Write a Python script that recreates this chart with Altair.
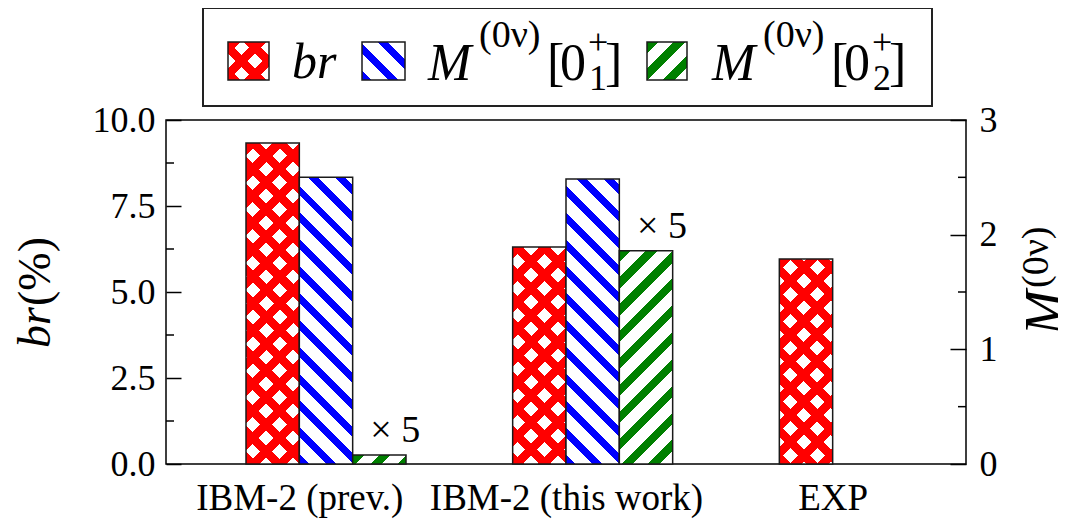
import json
import math
import altair as alt
import pandas as pd

# ---------------- data ----------------
groups = ["IBM-2 (prev.)", "IBM-2 (this work)", "EXP"]
br_percent = [9.33, 6.31, 5.96]          # left axis, %
m_0plus1 = [2.50, 2.485]                 # right axis
m_0plus2 = [0.0156, 0.372]               # right axis, drawn x5
M02_SCALE = 5
br_major = [0, 2.5, 5.0, 7.5, 10.0]
br_minor = [1.25, 3.75, 6.25, 8.75]
m_major = [0, 1, 2, 3]
m_minor = [0.5, 1.5, 2.5]
X5_LABEL = f"\u00d7 {M02_SCALE}"

# ---------------- style / layout ----------------
FONT = "Liberation Serif, Times New Roman, serif"
W, H = 800, 344
BR_MAX, M_MAX = 10.0, 3.0
BAR = 0.2
PX = W / 3.0
RED, BLUE, GREEN = "#ff0000", "#0000ff", "#008000"
WHITE = "#ffffff"
CLEAR = "rgba(255,255,255,0)"
EDGE = "#1a1a1a"
PERIOD = 19.0

rows = []
for i, v in enumerate(br_percent):
    rows.append(dict(id=f"br{i}", s="br", g=i, v=v, slot=-0.5))
for i, v in enumerate(m_0plus1):
    rows.append(dict(id=f"m1{i}", s="m1", g=i, v=v, slot=0.5))
for i, v in enumerate(m_0plus2):
    rows.append(dict(id=f"m2{i}", s="m2", g=i, v=v * M02_SCALE, slot=1.5))
df = pd.DataFrame(rows)
df["xc"] = df["g"] + df["slot"] * BAR
df["x0"] = df["xc"] - BAR / 2
df["x1"] = df["xc"] + BAR / 2


def stripes(w, h, direction, color, gap, frac):
    """Linear gradient with hard stops giving 45 degree stripes in a w x h box."""
    L = w + h
    P = PERIOD * math.sqrt(2)
    stops = []
    pos = 0.0
    while pos < L - 1e-6:
        a = round(pos / L, 5)
        b = round(min(pos + frac * P, L) / L, 5)
        c = round(min(pos + P, L) / L, 5)
        stops += [alt.GradientStop(offset=a, color=color),
                  alt.GradientStop(offset=b, color=color),
                  alt.GradientStop(offset=b, color=gap),
                  alt.GradientStop(offset=c, color=gap)]
        pos += P
    mu = (w + h) / (w * w + h * h)
    if direction == "back":   # "\\" stripes
        x1, y1, x2, y2 = 0, 1, mu * w, 1 - mu * h
    else:                     # "//" stripes
        x1, y1, x2, y2 = 0, 0, mu * w, mu * h
    return alt.LinearGradient(gradient="linear", stops=stops,
                              x1=x1, y1=y1, x2=x2, y2=y2)


def fills_for(series, w, h):
    """List of (fill, with_stroke) layers for one series pattern."""
    if series == "br":
        return [(stripes(w, h, "back", RED, WHITE, 0.45), False),
                (stripes(w, h, "fwd", RED, CLEAR, 0.45), True)]
    if series == "m1":
        return [(stripes(w, h, "back", BLUE, WHITE, 0.37), True)]
    return [(stripes(w, h, "fwd", GREEN, WHITE, 0.42), True)]


# ---------------- scales & axes ----------------
x_scale = alt.Scale(domain=[-0.5, 2.5], nice=False, zero=False)
br_scale = alt.Scale(domain=[0, BR_MAX], nice=False)
m_scale = alt.Scale(domain=[0, M_MAX], nice=False)

x_axis = alt.Axis(values=[0, 1, 2], labelExpr=f"{json.dumps(groups)}[datum.value]",
                  ticks=False, domain=False, grid=False, title="",
                  labelFont=FONT, labelFontSize=37, labelColor="black",
                  labelPadding=16, labelFlush=False, labelOverlap=False,
                  labelLimit=0)
left_axis = alt.Axis(orient="left", values=br_major, format=".1f", offset=-15,
                     tickSize=15, tickWidth=1.5, tickColor="black", domain=False,
                     grid=False, title="", labelPadding=11, labelFont=FONT,
                     labelFontSize=36, labelColor="black")
right_axis = alt.Axis(orient="right", values=m_major, format="d", offset=-16,
                      tickSize=16, tickWidth=1.5, tickColor="black", domain=False,
                      grid=False, title="", labelPadding=13, labelFont=FONT,
                      labelFontSize=36, labelColor="black")

left_layers, right_layers = [], []
for r in df.itertuples():
    is_br = r.s == "br"
    ymax = BR_MAX if is_br else M_MAX
    w = BAR * PX
    h = max(r.v / ymax * H, 1.0)
    for fill, with_stroke in fills_for(r.s, w, h):
        mk = dict(fill=fill)
        if with_stroke:
            mk.update(stroke=EDGE, strokeWidth=1.5)
        layer = (alt.Chart(df).transform_filter(alt.datum.id == r.id)
                 .mark_bar(**mk)
                 .encode(x=alt.X("x0:Q", scale=x_scale, axis=x_axis),
                         x2=alt.X2("x1"),
                         y=alt.Y("v:Q", scale=br_scale if is_br else m_scale,
                                 axis=left_axis if is_br else right_axis),
                         y2=alt.datum(0)))
        (left_layers if is_br else right_layers).append(layer)

left_minor = (alt.Chart(pd.DataFrame({"t": br_minor}))
              .mark_rule(color="black", strokeWidth=1.5)
              .encode(y=alt.Y("t:Q", scale=br_scale, axis=left_axis),
                      x=alt.value(0), x2=alt.value(8)))
right_minor = (alt.Chart(pd.DataFrame({"t": m_minor}))
               .mark_rule(color="black", strokeWidth=1.5)
               .encode(y=alt.Y("t:Q", scale=m_scale, axis=right_axis),
                       x=alt.value(W - 8), x2=alt.value(W)))
x5_text = (alt.Chart(df).transform_filter(alt.datum.s == "m2")
           .mark_text(text=X5_LABEL, font=FONT, fontSize=38, align="left",
                      baseline="alphabetic", dx=-9, dy=-13, color="black")
           .encode(x=alt.X("xc:Q", scale=x_scale, axis=x_axis),
                   y=alt.Y("v:Q", scale=m_scale, axis=right_axis)))

left = alt.layer(*left_layers, left_minor)
right = alt.layer(*right_layers, x5_text, right_minor)

# ---------------- legend & titles (decoration) ----------------
one = alt.Data(values=[{"k": 1}])


def rect(x, x2, y, y2, **kw):
    return alt.Chart(one).mark_rect(**kw).encode(
        x=alt.value(x), x2=alt.value(x2), y=alt.value(y), y2=alt.value(y2))


def txt(s, x, y, size, italic=False, angle=0):
    kw = dict(text=s, font=FONT, fontSize=size, align="left",
              baseline="alphabetic", color="black",
              fontStyle="italic" if italic else "normal")
    if angle:
        kw["angle"] = angle
    return alt.Chart(one).mark_text(**kw).encode(x=alt.value(x), y=alt.value(y))


deco = [rect(37, 766, -112, -14, fill="white", stroke="#222", strokeWidth=2)]

SW_Y0, SW_Y1 = -78, -40
for series, x0, x1 in [("br", 62, 103), ("m1", 196, 239), ("m2", 481, 521)]:
    w, h = x1 - x0, SW_Y1 - SW_Y0
    for fill, with_stroke in fills_for(series, w, h):
        kw = dict(fill=fill)
        if with_stroke:
            kw.update(stroke=EDGE, strokeWidth=1.5)
        deco.append(rect(x0, x1, SW_Y0, SW_Y1, **kw))

deco.append(txt("br", 126, -42, 50, italic=True))
for sub, dx in [("1", 0), ("2", 284)]:
    deco += [txt("M", 262 + dx, -40, 52, italic=True),
             txt("(0\u03bd)", 313 + dx, -73, 38),
             txt("[", 381 + dx, -40, 52),
             txt("0", 394 + dx, -40, 52),
             txt("+", 422 + dx, -66, 36),
             txt(sub, 423 + dx, -30, 36),
             txt("]", 439 + dx, -40, 52)]

# axis titles
deco += [txt("br", -116, 228, 46, italic=True, angle=270),
         txt("(%)", -116, 186, 46, angle=270),
         txt("M", 896, 215, 54, italic=True, angle=270),
         txt("(0\u03bd)", 882, 168, 38, angle=270)]

chart = (alt.layer(left, right, *deco)
         .resolve_scale(y="independent")
         .properties(width=W, height=H,
                     padding={"left": 158, "top": 112, "right": 92, "bottom": 57},
                     autosize=alt.AutoSizeParams(type="none"))
         .configure_view(stroke="black", strokeWidth=1.5)
         .configure_axis(grid=False))

chart.save("out.html", embed_options={"renderer": "svg", "actions": False})
